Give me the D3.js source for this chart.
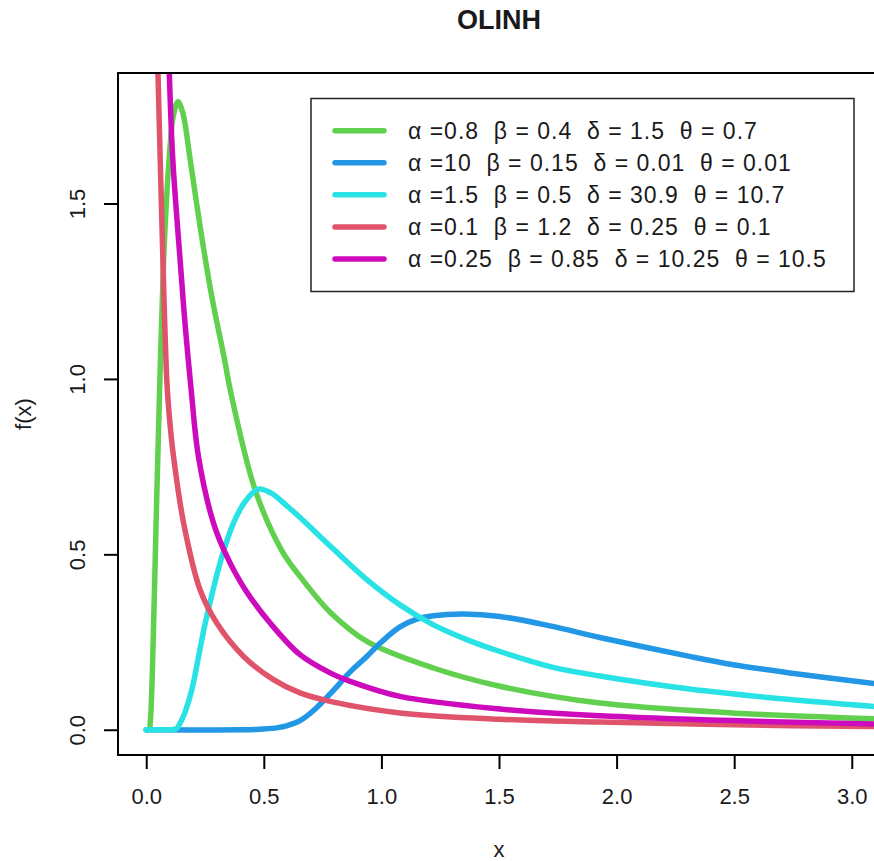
<html><head>
<script src="https://cdnjs.cloudflare.com/ajax/libs/d3/7.8.5/d3.min.js"></script>
<style>
  body { margin: 0; background: #fff; overflow: hidden; }
  svg { display: block; font-family: "Liberation Sans", Arial, sans-serif; }
</style>
</head>
<body>
<div id="chart"></div>
<script>
// curve samples, [x, f(x)]
const green = [[0,0],[0.012,0],[0.018,0.03],[0.028,0.21],[0.042,0.59],[0.057,0.97],[0.074,1.34],[0.088,1.53],[0.1,1.65],[0.115,1.75],[0.135,1.79],[0.155,1.76],[0.187,1.625],[0.229,1.435],[0.276,1.245],[0.333,1.055],[0.36,0.96],[0.463,0.684],[0.577,0.51],[0.654,0.437],[0.782,0.335],[0.938,0.252],[1.221,0.176],[1.504,0.124],[1.929,0.076],[2.49,0.048],[3.12,0.031]];
const blue = [[0,0],[0.4,0],[0.5,0.002],[0.56,0.006],[0.6,0.012],[0.654,0.026],[0.72,0.06],[0.796,0.112],[0.867,0.165],[0.938,0.209],[1.0,0.25],[1.079,0.293],[1.15,0.315],[1.221,0.325],[1.349,0.33],[1.504,0.323],[1.717,0.296],[1.929,0.263],[2.31,0.209],[2.49,0.186],[2.737,0.162],[3.12,0.13]];
const cyan = [[0,0],[0.1,0],[0.115,0.001],[0.13,0.004],[0.145,0.02],[0.165,0.05],[0.194,0.114],[0.251,0.304],[0.322,0.494],[0.371,0.589],[0.42,0.65],[0.477,0.686],[0.53,0.675],[0.6,0.637],[0.654,0.605],[0.796,0.515],[0.938,0.428],[1.079,0.356],[1.221,0.299],[1.363,0.257],[1.504,0.223],[1.717,0.18],[1.929,0.153],[2.31,0.116],[2.737,0.086],[3.12,0.065]];
const red = [[0.045,1.95],[0.05,1.87],[0.067,1.435],[0.088,0.99],[0.1,0.88],[0.116,0.779],[0.159,0.589],[0.229,0.399],[0.3,0.304],[0.414,0.209],[0.541,0.143],[0.654,0.105],[0.782,0.081],[1.079,0.048],[1.504,0.03],[1.929,0.022],[2.5,0.014],[3.12,0.009]];
const magenta = [[0.095,1.95],[0.098,1.874],[0.113,1.625],[0.144,1.34],[0.166,1.15],[0.191,0.97],[0.222,0.779],[0.286,0.589],[0.343,0.494],[0.421,0.399],[0.527,0.304],[0.654,0.214],[0.782,0.162],[0.867,0.138],[1.079,0.095],[1.504,0.059],[1.929,0.04],[2.49,0.026],[3.12,0.016]];

const seriesData = [green, blue, cyan, red, magenta];
const colors = ["#61D04F", "#2297E6", "#28E2E5", "#DF536B", "#CD0BBC"];
const labels = [
  "\u03B1 =0.8  \u03B2 = 0.4  \u03B4 = 1.5  \u03B8 = 0.7",
  "\u03B1 =10  \u03B2 = 0.15  \u03B4 = 0.01  \u03B8 = 0.01",
  "\u03B1 =1.5  \u03B2 = 0.5  \u03B4 = 30.9  \u03B8 = 10.7",
  "\u03B1 =0.1  \u03B2 = 1.2  \u03B4 = 0.25  \u03B8 = 0.1",
  "\u03B1 =0.25  \u03B2 = 0.85  \u03B4 = 10.25  \u03B8 = 10.5"
];
const xTicks = [0, 0.5, 1, 1.5, 2, 2.5, 3];
const yTicks = [0, 0.5, 1, 1.5];

const W = 874, H = 861;
const pL = 118, pR = 880, pT = 73, pB = 755;

const svg = d3.select("#chart").append("svg")
  .attr("width", W).attr("height", H);

const x = d3.scaleLinear().domain([-0.12, 3.12]).range([pL, pR]);
const y = d3.scaleLinear().domain([-0.072, 1.872]).range([pB, pT]);

svg.append("clipPath").attr("id", "plotclip")
  .append("rect")
  .attr("x", pL).attr("y", pT)
  .attr("width", pR - pL).attr("height", pB - pT);

const line = d3.line()
  .x(d => x(d[0]))
  .y(d => y(d[1]))
  .curve(d3.curveCatmullRom.alpha(0.5));

const curves = svg.append("g").attr("clip-path", "url(#plotclip)");
seriesData.forEach((s, i) => {
  curves.append("path")
    .attr("d", line(s))
    .attr("fill", "none")
    .attr("stroke", colors[i])
    .attr("stroke-width", 5.5)
    .attr("stroke-linecap", "round")
    .attr("stroke-linejoin", "round");
});

// box
svg.append("rect")
  .attr("x", pL).attr("y", pT)
  .attr("width", pR - pL).attr("height", pB - pT)
  .attr("fill", "none").attr("stroke", "#000").attr("stroke-width", 2);

// axes
const xAxis = svg.append("g")
  .attr("transform", `translate(0,${pB})`)
  .call(d3.axisBottom(x).tickValues(xTicks).tickSize(14).tickFormat(d3.format(".1f")));
xAxis.select(".domain").remove();
xAxis.selectAll("line").attr("stroke", "#000").attr("stroke-width", 2);
xAxis.selectAll("text")
  .attr("y", 49).attr("dy", 0)
  .attr("fill", "#1a1a1a")
  .style("font-size", "22px");

const yAxis = svg.append("g")
  .attr("transform", `translate(${pL},0)`)
  .call(d3.axisLeft(y).tickValues(yTicks).tickSize(14).tickFormat(d3.format(".1f")));
yAxis.select(".domain").remove();
yAxis.selectAll("line").attr("stroke", "#000").attr("stroke-width", 2);
yAxis.selectAll("text")
  .attr("x", 0).attr("y", -33).attr("dy", 0)
  .attr("transform", "rotate(-90)")
  .style("text-anchor", "middle")
  .attr("fill", "#1a1a1a")
  .style("font-size", "22px");

// titles
svg.append("text")
  .attr("x", (pL + pR) / 2).attr("y", 29)
  .attr("text-anchor", "middle")
  .style("font-size", "27px").style("font-weight", "bold")
  .attr("fill", "#1a1a1a")
  .text("OLINH");

svg.append("text")
  .attr("x", (pL + pR) / 2).attr("y", 857)
  .attr("text-anchor", "middle")
  .style("font-size", "22px")
  .attr("fill", "#1a1a1a")
  .text("x");

svg.append("text")
  .attr("transform", `translate(31,${(pT + pB) / 2}) rotate(-90)`)
  .attr("text-anchor", "middle")
  .style("font-size", "22px")
  .attr("fill", "#1a1a1a")
  .text("f(x)");

// legend
const legend = svg.append("g");
legend.append("rect")
  .attr("x", 311).attr("y", 98.5)
  .attr("width", 543).attr("height", 193)
  .attr("fill", "#fff").attr("stroke", "#222").attr("stroke-width", 1.5);

const rowY = d3.scaleLinear().domain([0, 4]).range([130.7, 259]);
labels.forEach((t, i) => {
  legend.append("line")
    .attr("x1", 335).attr("x2", 384)
    .attr("y1", rowY(i)).attr("y2", rowY(i))
    .attr("stroke", colors[i]).attr("stroke-width", 5.5)
    .attr("stroke-linecap", "round");
  legend.append("text")
    .attr("x", 408).attr("y", rowY(i) + 8)
    .style("font-size", "23px")
    .style("letter-spacing", "1px")
    .style("white-space", "pre")
    .attr("fill", "#1a1a1a")
    .text(t);
});
</script>
</body></html>
